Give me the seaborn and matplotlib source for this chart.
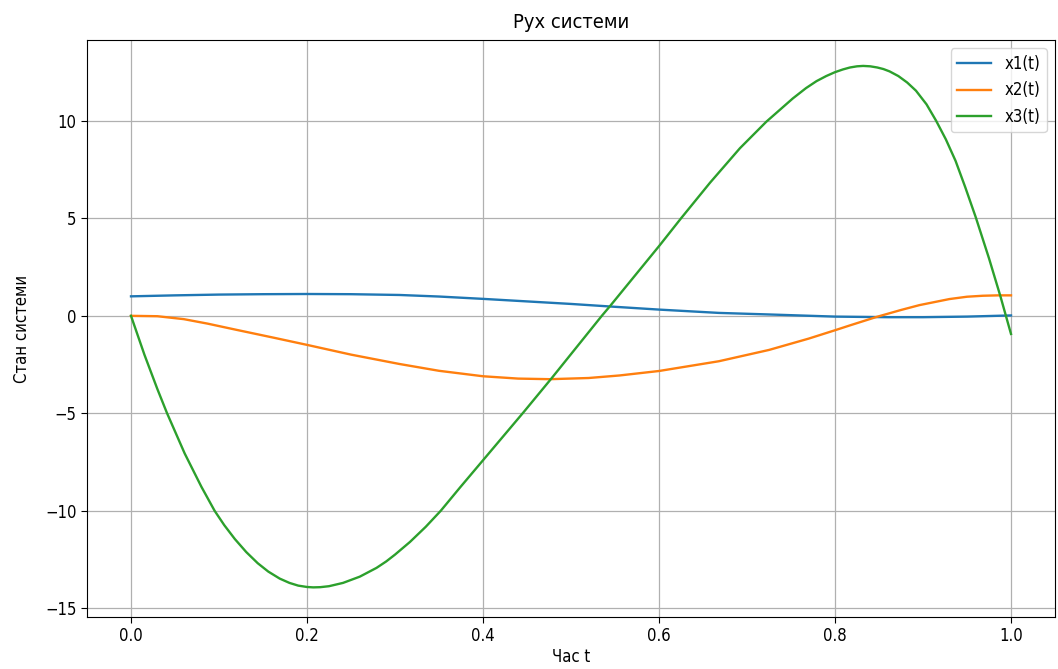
import matplotlib
matplotlib.use("Agg")
import matplotlib.pyplot as plt
import seaborn as sns
import pandas as pd

# values
t1 = [0.0, 0.05, 0.1, 0.15, 0.2, 0.25, 0.305, 0.35, 0.4, 0.45, 0.5, 0.544, 0.6, 0.668, 0.725, 0.8, 0.86, 0.9, 0.95, 1.0]
x1 = [1.0, 1.05, 1.09, 1.11, 1.12, 1.11, 1.07, 0.99, 0.87, 0.74, 0.61, 0.48, 0.32, 0.15, 0.07, -0.04, -0.07, -0.07, -0.04, 0.02]

t2 = [0.0, 0.03, 0.06, 0.087, 0.12, 0.163, 0.2, 0.25, 0.305, 0.35, 0.4, 0.44, 0.476, 0.52, 0.555, 0.6, 0.668, 0.725, 0.77, 0.8, 0.817, 0.847, 0.875, 0.896, 0.93, 0.95, 0.968, 0.985, 1.0]
x2 = [0.0, -0.02, -0.17, -0.4, -0.72, -1.13, -1.49, -1.99, -2.47, -2.82, -3.1, -3.22, -3.25, -3.19, -3.06, -2.83, -2.33, -1.75, -1.17, -0.74, -0.49, -0.06, 0.3, 0.55, 0.86, 0.98, 1.03, 1.05, 1.05]

t3 = [0.0, 0.0153, 0.03, 0.041, 0.061, 0.08, 0.095, 0.106, 0.118, 0.131, 0.144, 0.156, 0.169, 0.18, 0.19, 0.2, 0.207, 0.215, 0.225, 0.241, 0.26, 0.279, 0.29, 0.3, 0.317, 0.335, 0.352, 0.374, 0.4, 0.446, 0.478, 0.535, 0.544, 0.601, 0.625, 0.658, 0.692, 0.722, 0.752, 0.767, 0.779, 0.79, 0.8, 0.809, 0.817, 0.825, 0.832, 0.84, 0.848, 0.855, 0.862, 0.872, 0.882, 0.892, 0.904, 0.915, 0.926, 0.937, 0.948, 0.96, 0.975, 0.988, 1.0]
x3 = [0.0, -2.0, -3.76, -5.0, -7.06, -8.77, -10.0, -10.74, -11.45, -12.12, -12.69, -13.12, -13.48, -13.7, -13.84, -13.91, -13.93, -13.92, -13.87, -13.7, -13.38, -12.93, -12.6, -12.25, -11.6, -10.82, -10.0, -8.8, -7.41, -4.95, -3.2, 0.0, 0.48, 3.63, 5.0, 6.83, 8.6, 9.96, 11.15, 11.68, 12.04, 12.3, 12.5, 12.64, 12.74, 12.8, 12.82, 12.8, 12.74, 12.66, 12.54, 12.3, 11.97, 11.55, 10.85, 10.0, 9.05, 7.95, 6.6, 5.05, 2.95, 1.0, -0.93]

labels = ["x1(t)", "x2(t)", "x3(t)"]
colors = ["#1f77b4", "#ff7f0e", "#2ca02c"]
title = "Рух системи"
xlabel = "Час t"
ylabel = "Стан системи"

plt.rcParams['font.family'] = ['DejaVu Sans']
plt.rcParams['font.stretch'] = 'condensed'
plt.rcParams['font.size'] = 12

fig = plt.figure(figsize=(10.58, 6.69), dpi=100)
ax = fig.add_axes([87/1058, 1 - 617/669, (1055-87)/1058, (617-40)/669])

for t, x, lab, c in zip([t1, t2, t3], [x1, x2, x3], labels, colors):
    df = pd.DataFrame({"t": t, "x": x})
    sns.lineplot(data=df, x="t", y="x", ax=ax, color=c, label=lab, linewidth=1.7, sort=False, estimator=None)

ax.set_xlim(-0.05, 1.05)
ax.set_ylim(-15.45, 14.15)
ax.set_xticks([0.0, 0.2, 0.4, 0.6, 0.8, 1.0])
ax.set_yticks([-15, -10, -5, 0, 5, 10])
ax.tick_params(labelsize=12, length=4)
ax.grid(True, color="#b0b0b0", linewidth=0.9)
ax.set_title(title, fontsize=14.4, pad=9)
ax.set_xlabel(xlabel, labelpad=2)
ax.set_ylabel(ylabel, labelpad=10)
ax.legend(loc="upper right", fontsize=12)

fig.savefig("out.png", dpi=100)
